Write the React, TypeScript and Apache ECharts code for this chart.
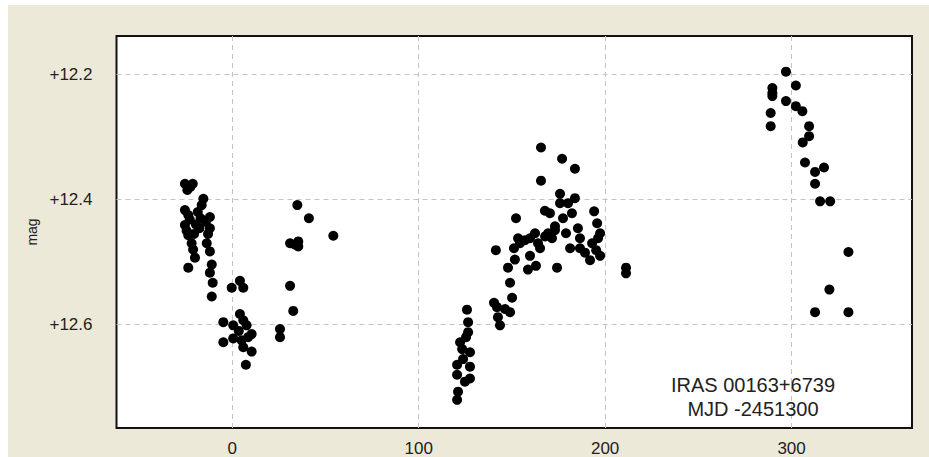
import React, { useEffect, useRef } from "react";
import * as echarts from "echarts";

// MJD - 2451300 (days) and V magnitude of IRAS 00163+6739
const days: number[] = [
  -25.4, -21.2, -24.1, -22.5, -15.5, -16.4, -25.4, -23.6, -12, -25.4, -19.5, -17.6, -14.2, -12,
  -23.6, -21.8, -13.7, -12, -20, -23.6, -11, -12, -10.5, -11, -24.5, -22.8, -18.5, -20.5, -17, -13, -21,
  -0.3, 4.1, 5.9, 4.1, -4.8, 0.5, 5.9, 7.7, 10.4, -4.8, 0.5, 5, 5.9, 10.4, 7.3, 3.5, 8.5,
  25.6, 25.6, 31, 32.7, 31, 35.4, 35.4, 33.5, 34.9, 41.1, 54.2,
  120.6, 120.6, 121.1, 120.6, 122.2, 123.3, 125.4, 126.5, 125.9, 127.5, 127.5, 127.5, 124.8, 123.8, 126.5,
  141.4, 140.4, 142, 143.6, 142.5, 146.3, 147.9, 149, 150.1, 149, 151.6, 151.1, 153.3, 152.2, 154.3,
  157, 159.7, 162.4, 164, 165.1, 167.8, 169.4, 171.5, 173.1, 159.7, 162.9, 158.6, 165.6, 165.6,
  167.7, 170.4, 173.1, 175.8, 177.4, 179, 180.1, 182.2, 183.8, 185.4, 186.5, 174.2, 176.9, 183.8, 175.8,
  194.1, 195.7, 197.3, 193, 195.2, 197.3, 191.9, 196.2, 189.2, 186.5, 181.2, 211.2, 211.2,
  297, 302.3, 289.7, 289.7, 289.7, 297, 302.3, 305.8, 288.8, 288.8, 309.4, 309.4, 306, 307.2,
  312.6, 317.4, 312.6, 315.3, 320.7, 330.5, 320.3, 312.6, 330.5,
];
const mags: number[] = [
  12.375, 12.375, 12.385, 12.38, 12.399, 12.409, 12.417, 12.425, 12.428, 12.441, 12.44, 12.446, 12.436, 12.446,
  12.457, 12.47, 12.47, 12.483, 12.493, 12.509, 12.504, 12.517, 12.533, 12.555, 12.45, 12.432, 12.42, 12.455, 12.43, 12.455, 12.48,
  12.541, 12.53, 12.541, 12.583, 12.596, 12.601, 12.593, 12.601, 12.615, 12.628, 12.622, 12.625, 12.636, 12.643, 12.664, 12.61, 12.62,
  12.607, 12.62, 12.538, 12.578, 12.47, 12.467, 12.475, 12.472, 12.409, 12.43, 12.458,
  12.664, 12.68, 12.707, 12.72, 12.628, 12.639, 12.62, 12.596, 12.576, 12.644, 12.667, 12.686, 12.691, 12.655, 12.612,
  12.481, 12.565, 12.572, 12.601, 12.588, 12.575, 12.509, 12.533, 12.557, 12.58, 12.496, 12.478, 12.462, 12.43, 12.47,
  12.465, 12.462, 12.454, 12.47, 12.478, 12.459, 12.454, 12.462, 12.449, 12.49, 12.506, 12.512, 12.317, 12.37,
  12.418, 12.422, 12.443, 12.406, 12.43, 12.454, 12.406, 12.422, 12.398, 12.446, 12.462, 12.509, 12.335, 12.351, 12.391,
  12.419, 12.438, 12.454, 12.47, 12.481, 12.49, 12.497, 12.462, 12.485, 12.478, 12.478, 12.509, 12.518,
  12.196, 12.218, 12.222, 12.23, 12.235, 12.243, 12.251, 12.259, 12.262, 12.283, 12.283, 12.299, 12.309, 12.341,
  12.356, 12.349, 12.375, 12.403, 12.403, 12.484, 12.544, 12.58, 12.58,
];

const xTicks: number[] = [0, 100, 200, 300];
const yTicks: number[] = [12.2, 12.4, 12.6];
const xRange: number[] = [-62.1, 364.6];
const yRange: number[] = [12.139, 12.765];
const annotationLines: string[] = ["IRAS 00163+6739", "MJD -2451300"];

const FONT = "'Liberation Sans', Arial, sans-serif";

export default function App() {
  const ref = useRef<HTMLDivElement>(null);
  useEffect(() => {
    if (!ref.current) return;
    const chart = echarts.init(ref.current, null, { renderer: "svg" });
    const points = days.map((d, i) => [d, mags[i]]);
    const gridLineStyle = { color: "#c4c4c4", width: 1, type: [5, 4] as number[] };
    chart.setOption({
      animation: false,
      backgroundColor: "#ece9d8",
      grid: {
        left: 108.5,
        right: 17,
        top: 31,
        bottom: 25,
        show: true,
        backgroundColor: "#ffffff",
        borderColor: "#111111",
        borderWidth: 2,
      },
      xAxis: {
        type: "value",
        min: xRange[0],
        max: xRange[1],
        axisLine: { show: false },
        axisTick: { show: false },
        splitLine: { show: false },
        axisLabel: {
          customValues: xTicks,
          color: "#222",
          fontSize: 17,
          fontFamily: FONT,
          margin: 12,
        },
      },
      yAxis: {
        type: "value",
        inverse: true,
        min: yRange[0],
        max: yRange[1],
        name: "mag",
        nameLocation: "middle",
        nameRotate: 90,
        nameGap: 78,
        nameTextStyle: { color: "#222", fontSize: 14, fontFamily: FONT },
        axisLine: { show: false },
        axisTick: { show: false },
        splitLine: { show: false },
        axisLabel: {
          customValues: yTicks,
          formatter: (v: number) => "+" + v.toFixed(1),
          color: "#222",
          fontSize: 17,
          fontFamily: FONT,
          margin: 24,
        },
      },
      series: [
        {
          type: "scatter",
          data: [],
          z: 1,
          silent: true,
          markLine: {
            silent: true,
            z: 1,
            symbol: "none",
            label: { show: false },
            lineStyle: gridLineStyle,
            data: [
              ...xTicks.map((v) => ({ xAxis: v })),
              ...yTicks.map((v) => ({ yAxis: v })),
            ],
          },
        },
        {
          type: "scatter",
          z: 3,
          data: points,
          symbol: "circle",
          symbolSize: 10,
          itemStyle: { color: "#000000", opacity: 1 },
        },
      ],
      graphic: annotationLines.map((line, i) => ({
        type: "text",
        x: 745,
        y: 380 + i * 24,
        z: 10,
        style: {
          text: line,
          align: "center",
          verticalAlign: "middle",
          fontSize: 20,
          fontFamily: FONT,
          fill: "#222",
        },
      })),
    });
    return () => chart.dispose();
  }, []);
  return (
    <div
      ref={ref}
      style={{ position: "absolute", left: 8, top: 5, width: 921, height: 452 }}
    />
  );
}
